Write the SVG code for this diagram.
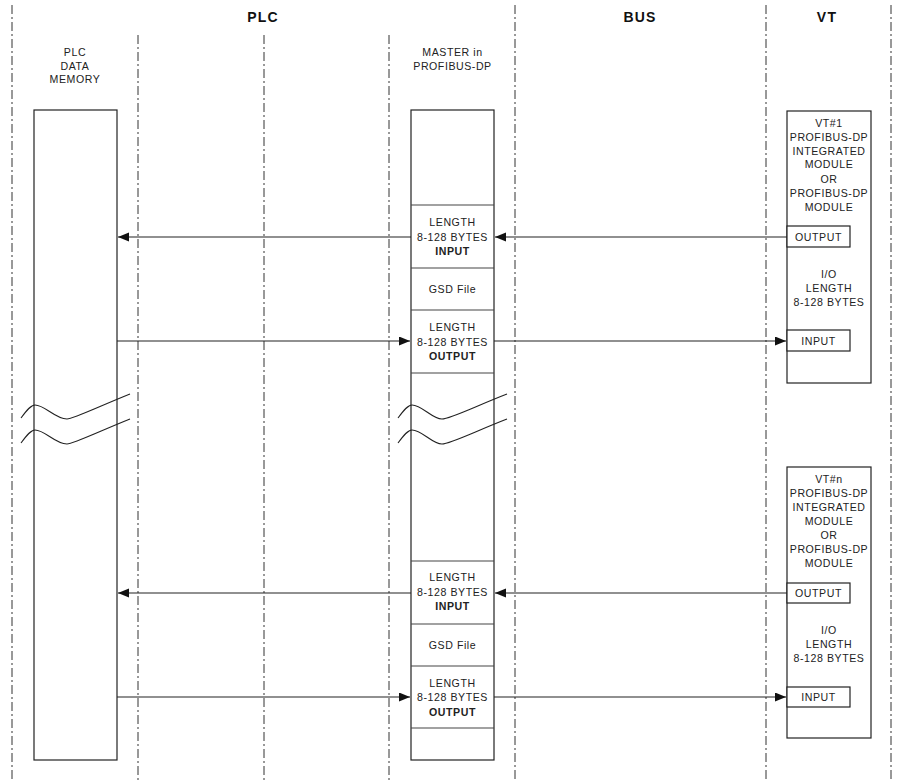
<svg xmlns="http://www.w3.org/2000/svg" width="897" height="780" viewBox="0 0 897 780">
<style>
text{font-family:"Liberation Sans",Arial,sans-serif;fill:#222;}
.t{font-size:10.6px;letter-spacing:0.55px;text-anchor:middle;}
.b{font-weight:bold;}
.h{font-size:14px;font-weight:bold;letter-spacing:1.2px;text-anchor:middle;fill:#111;}
.box{fill:#fff;stroke:#222;stroke-width:1.2;}
.div{stroke:#444;stroke-width:1.2;}
.lane{stroke:#333;stroke-width:1;stroke-dasharray:9 3 2 3;fill:none;}
.con{stroke:#222;stroke-width:1.1;fill:none;marker-end:url(#ah);}
.brk{stroke:#222;stroke-width:1.1;fill:none;}
</style>
<defs>
<marker id="ah" markerUnits="userSpaceOnUse" markerWidth="12" markerHeight="10" refX="11" refY="4.5" orient="auto">
<path d="M0,0 L11,4.5 L0,9 z" fill="#111"/>
</marker>
</defs>
<rect width="897" height="780" fill="#fff"/>
<g id="lanes">
<line class="lane" x1="12" y1="5" x2="12" y2="780"/>
<line class="lane" x1="138" y1="35" x2="138" y2="780"/>
<line class="lane" x1="264" y1="35" x2="264" y2="780"/>
<line class="lane" x1="389" y1="35" x2="389" y2="780"/>
<line class="lane" x1="515" y1="5" x2="515" y2="780"/>
<line class="lane" x1="766" y1="5" x2="766" y2="780"/>
<line class="lane" x1="891" y1="5" x2="891" y2="780"/>
</g>
<g id="headers">
<text class="h" x="263" y="22">PLC</text>
<text class="h" x="640" y="22">BUS</text>
<text class="h" x="827" y="22">VT</text>
</g>
<g id="plc-memory">
<text class="t" x="75" y="56">PLC</text>
<text class="t" x="75" y="69.5">DATA</text>
<text class="t" x="75" y="83">MEMORY</text>
<rect class="box" x="34" y="110" width="83" height="650"/>
</g>
<g id="master">
<text class="t" x="452.5" y="56">MASTER in</text>
<text class="t" x="452.5" y="69.5">PROFIBUS-DP</text>
<rect class="box" x="411" y="110" width="83" height="650"/>
<line class="div" x1="411" y1="205" x2="494" y2="205"/>
<line class="div" x1="411" y1="268" x2="494" y2="268"/>
<line class="div" x1="411" y1="310" x2="494" y2="310"/>
<line class="div" x1="411" y1="373" x2="494" y2="373"/>
<line class="div" x1="411" y1="561" x2="494" y2="561"/>
<line class="div" x1="411" y1="624" x2="494" y2="624"/>
<line class="div" x1="411" y1="666" x2="494" y2="666"/>
<line class="div" x1="411" y1="728" x2="494" y2="728"/>
<text class="t" x="452.5" y="226">LENGTH</text>
<text class="t" x="452.5" y="241">8-128 BYTES</text>
<text class="t b" x="452.5" y="255">INPUT</text>
<text class="t" x="452.5" y="293">GSD File</text>
<text class="t" x="452.5" y="331">LENGTH</text>
<text class="t" x="452.5" y="345.5">8-128 BYTES</text>
<text class="t b" x="452.5" y="360">OUTPUT</text>
<text class="t" x="452.5" y="581">LENGTH</text>
<text class="t" x="452.5" y="596">8-128 BYTES</text>
<text class="t b" x="452.5" y="610">INPUT</text>
<text class="t" x="452.5" y="649">GSD File</text>
<text class="t" x="452.5" y="687">LENGTH</text>
<text class="t" x="452.5" y="701">8-128 BYTES</text>
<text class="t b" x="452.5" y="716">OUTPUT</text>
</g>
<g id="vt1">
<rect class="box" x="787" y="111" width="84" height="272"/>
<text class="t" x="829" y="127">VT#1</text>
<text class="t" x="829" y="141">PROFIBUS-DP</text>
<text class="t" x="829" y="154.5">INTEGRATED</text>
<text class="t" x="829" y="168">MODULE</text>
<text class="t" x="829" y="182.5">OR</text>
<text class="t" x="829" y="197">PROFIBUS-DP</text>
<text class="t" x="829" y="211">MODULE</text>
<rect class="box" x="787" y="226" width="63" height="21"/>
<text class="t" x="818.5" y="241">OUTPUT</text>
<text class="t" x="829" y="278">I/O</text>
<text class="t" x="829" y="292">LENGTH</text>
<text class="t" x="829" y="306">8-128 BYTES</text>
<rect class="box" x="787" y="330" width="63" height="21"/>
<text class="t" x="818.5" y="345">INPUT</text>
</g>
<g id="vtn">
<rect class="box" x="787" y="467" width="84" height="271"/>
<text class="t" x="829" y="483">VT#n</text>
<text class="t" x="829" y="497">PROFIBUS-DP</text>
<text class="t" x="829" y="511">INTEGRATED</text>
<text class="t" x="829" y="525">MODULE</text>
<text class="t" x="829" y="539">OR</text>
<text class="t" x="829" y="553">PROFIBUS-DP</text>
<text class="t" x="829" y="567">MODULE</text>
<rect class="box" x="787" y="583" width="63" height="20"/>
<text class="t" x="818.5" y="597">OUTPUT</text>
<text class="t" x="829" y="634">I/O</text>
<text class="t" x="829" y="648">LENGTH</text>
<text class="t" x="829" y="662">8-128 BYTES</text>
<rect class="box" x="787" y="687" width="63" height="20"/>
<text class="t" x="818.5" y="701">INPUT</text>
</g>
<g id="breaks">
<path class="brk" d="M21,418 C27,410 31,405 35,405 C45,405 55,419 67,419 C73,419 100,406 130,394"/>
<path class="brk" d="M21,443 C27,435 31,430 35,430 C45,430 55,444 67,444 C73,444 100,431 130,419"/>
<path class="brk" d="M398,418 C404,410 408,405 412,405 C422,405 432,419 442,419 C450,419 476,406 507,394"/>
<path class="brk" d="M398,443 C404,435 408,430 412,430 C422,430 432,444 442,444 C450,444 476,431 507,419"/>
</g>
<g id="connectors">
<line class="con" x1="787" y1="237" x2="495" y2="237"/>
<line class="con" x1="411" y1="237" x2="118" y2="237"/>
<line class="con" x1="117" y1="341" x2="410" y2="341"/>
<line class="con" x1="494" y1="341" x2="786" y2="341"/>
<line class="con" x1="787" y1="593" x2="495" y2="593"/>
<line class="con" x1="411" y1="593" x2="118" y2="593"/>
<line class="con" x1="117" y1="697" x2="410" y2="697"/>
<line class="con" x1="494" y1="697" x2="786" y2="697"/>
</g>
</svg>
